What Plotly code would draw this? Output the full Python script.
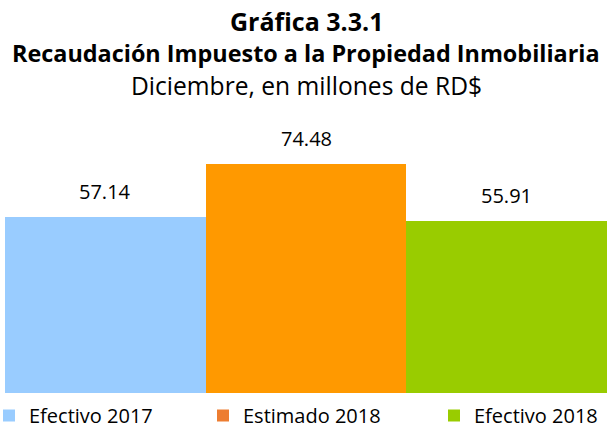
import plotly.graph_objects as go

categories = ["Efectivo 2017", "Estimado 2018", "Efectivo 2018"]
values = [57.14, 74.48, 55.91]
bar_colors = ["#99CCFF", "#FF9900", "#99CC00"]
legend_colors = ["#99CCFF", "#ED7D31", "#99CC00"]
title_lines = ["<b>Gráfica 3.3.1</b>",
               "<b>Recaudación Impuesto a la Propiedad Inmobiliaria</b>",
               "Diciembre, en millones de RD$"]

FONT = "Open Sans"
W, H = 607, 423
TOP, BOTTOM, LEFT = 130, 30, 5
plot_h = H - TOP - BOTTOM
plot_w = W - LEFT

fig = go.Figure()
legend_names = ["legend", "legend2", "legend3"]
for i, (cat, val) in enumerate(zip(categories, values)):
    fig.add_trace(go.Bar(x=[i], y=[val], marker_color=bar_colors[i], marker_line_width=0,
                         showlegend=False, hoverinfo="skip"))
    # legend-only swatch (legend colour differs from bar colour in the source)
    fig.add_trace(go.Bar(x=[None], y=[None], name=cat, marker_color=legend_colors[i],
                         marker_line_width=0, legend=legend_names[i]))
    fig.add_annotation(x=i, y=val, text=f"{val:.2f}", showarrow=False, yanchor="bottom",
                       yshift=10, font=dict(family=FONT, size=20, color="#000000"))

for line, ypix, size in zip(title_lines, [21, 53, 86], [25, 23.4, 24.6]):
    fig.add_annotation(x=0.5, xref="paper", yref="paper", y=1 + (TOP - ypix) / plot_h,
                       text=line, showarrow=False, yanchor="middle",
                       font=dict(family=FONT, size=size, color="#000000"))

leg_common = dict(orientation="h", yanchor="top", xanchor="left", y=-3 / plot_h,
                  font=dict(family=FONT, size=20, color="#000000"), bgcolor="rgba(0,0,0,0)",
                  borderwidth=0, tracegroupgap=0)
leg_x = [-11, 203, 434]
fig.update_layout(
    width=W, height=H,
    margin=dict(l=LEFT, r=0, t=TOP, b=BOTTOM, autoexpand=False),
    paper_bgcolor="#FFFFFF", plot_bgcolor="#FFFFFF",
    barmode="overlay", bargap=0,
    xaxis=dict(visible=False, range=[-0.5, 2.5]),
    yaxis=dict(visible=False, range=[0, plot_h / 3.077]),
    legend=dict(x=(leg_x[0] - LEFT) / plot_w, **leg_common),
    legend2=dict(x=(leg_x[1] - LEFT) / plot_w, **leg_common),
    legend3=dict(x=(leg_x[2] - LEFT) / plot_w, **leg_common),
)

fig.write_html("out.html", config={"displayModeBar": False})

# drop the default body margin so the figure sits flush in the window
with open("out.html", "r", encoding="utf-8") as fr:
    page = fr.read()
with open("out.html", "w", encoding="utf-8") as fw:
    fw.write(page.replace("<body>", '<body style="margin:0; overflow:hidden;">', 1))
